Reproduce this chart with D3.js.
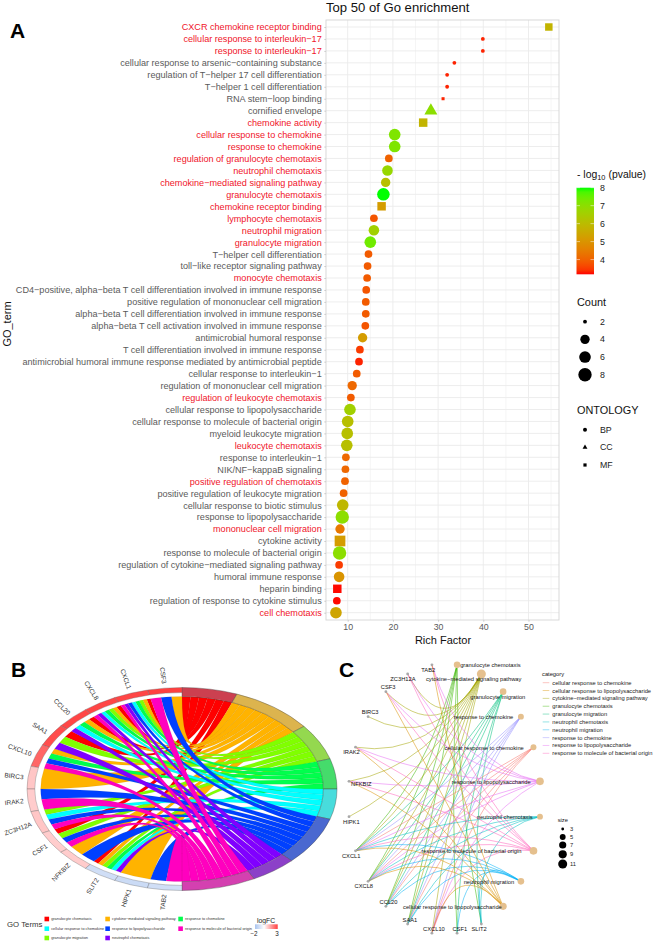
<!DOCTYPE html>
<html><head><meta charset="utf-8">
<script src="https://cdn.jsdelivr.net/npm/d3@7"></script>
<style>html,body{margin:0;padding:0;background:#fff}text{font-family:"Liberation Sans",Arial,sans-serif}</style>
</head><body><svg id="c" width="656" height="943" xmlns="http://www.w3.org/2000/svg"></svg>
<script>
// ---------- Panel A data ----------
const goTerms = ["CXCR chemokine receptor binding","cellular response to interleukin−17","response to interleukin−17","cellular response to arsenic−containing substance","regulation of T−helper 17 cell differentiation","T−helper 1 cell differentiation","RNA stem−loop binding","cornified envelope","chemokine activity","cellular response to chemokine","response to chemokine","regulation of granulocyte chemotaxis","neutrophil chemotaxis","chemokine−mediated signaling pathway","granulocyte chemotaxis","chemokine receptor binding","lymphocyte chemotaxis","neutrophil migration","granulocyte migration","T−helper cell differentiation","toll−like receptor signaling pathway","monocyte chemotaxis","CD4−positive, alpha−beta T cell differentiation involved in immune response","positive regulation of mononuclear cell migration","alpha−beta T cell differentiation involved in immune response","alpha−beta T cell activation involved in immune response","antimicrobial humoral response","T cell differentiation involved in immune response","antimicrobial humoral immune response mediated by antimicrobial peptide","cellular response to interleukin−1","regulation of mononuclear cell migration","regulation of leukocyte chemotaxis","cellular response to lipopolysaccharide","cellular response to molecule of bacterial origin","myeloid leukocyte migration","leukocyte chemotaxis","response to interleukin−1","NIK/NF−kappaB signaling","positive regulation of chemotaxis","positive regulation of leukocyte migration","cellular response to biotic stimulus","response to lipopolysaccharide","mononuclear cell migration","cytokine activity","response to molecule of bacterial origin","regulation of cytokine−mediated signaling pathway","humoral immune response","heparin binding","regulation of response to cytokine stimulus","cell chemotaxis"];
const richFactor = [54.5,39.9,39.9,33.6,32,32,31.1,28.4,26.7,20.4,20.4,19.1,18.8,18.4,17.9,17.5,15.8,15.8,15,14.6,14.4,14.3,14.1,14,14,13.9,13.3,12.7,12.5,12,11,10.7,10.5,10,9.9,9.8,9.6,9.5,9.4,9.1,8.9,8.8,8.3,8.3,8.2,8.1,8.1,7.7,7.6,7.4];
const logP = [5.8,3.3,3.3,3.3,3.3,3.3,3.3,7,5.8,7.2,7.2,4,6.8,6.1,8,5.2,3.8,6.6,7.4,3.9,3.9,3.9,3.8,3.9,3.9,3.8,5.2,3.5,3.3,3.9,4.1,3.9,6.6,6.1,6.1,6.1,4.1,4.1,4,4,5.9,7,4.4,5.2,7,3.5,5,3.2,3.2,5.4];
const geneCount = [4,2,2,2,2,2,2,5,5,6,6,3,5,4,7,5,3,5,6,3,3,3,3,3,3,3,4,3,3,3,4,3,6,6,6,6,3,3,3,3,6,8,4,8,8,3,5,5,3,6];
const ontology = ["MF","BP","BP","BP","BP","BP","MF","CC","MF","BP","BP","BP","BP","BP","BP","MF","BP","BP","BP","BP","BP","BP","BP","BP","BP","BP","BP","BP","BP","BP","BP","BP","BP","BP","BP","BP","BP","BP","BP","BP","BP","BP","BP","MF","BP","BP","BP","MF","BP","BP"];
const redTerms = ["CXCR chemokine receptor binding","cellular response to interleukin−17","response to interleukin−17","chemokine activity","cellular response to chemokine","response to chemokine","regulation of granulocyte chemotaxis","neutrophil chemotaxis","chemokine−mediated signaling pathway","granulocyte chemotaxis","chemokine receptor binding","lymphocyte chemotaxis","neutrophil migration","granulocyte migration","monocyte chemotaxis","regulation of leukocyte chemotaxis","leukocyte chemotaxis","positive regulation of chemotaxis","mononuclear cell migration","cell chemotaxis"];
const xTicks = [10,20,30,40,50];
const colourTicks = [8,7,6,5,4];
const countTicks = [2,4,6,8];
const ontologyLevels = ["BP","CC","MF"];

// ---------- Panel B / C data ----------
const chordGenes = ["CSF3","CXCL1","CXCL8","CCL20","SAA1","CXCL10","BIRC3","IRAK2","ZC3H12A","CSF1","NFKBIZ","SLIT2","HIPK1","TAB2"];
const logFC = [3,2.9,2.9,2.9,2.8,2.4,0.9,0.8,0.9,0.8,0.8,-1.1,-1.2,-1.1];
const chordTerms = ["granulocyte chemotaxis","cytokine−mediated signaling pathway","granulocyte migration","response to chemokine","cellular response to chemokine","response to lipopolysaccharide","neutrophil chemotaxis","response to molecule of bacterial origin"];
const chordColours = ["#ff0000","#ffb300","#80ff00","#00ff4d","#00ffff","#0040ff","#8000ff","#ff00bf"];
const ringColours = ["#cc4050","#dcb44e","#94d84f","#45dc6b","#48dcdc","#4a68d0","#8c40c8","#d440b0"];
const termGenes = [
 ["CXCL1","CXCL8","CCL20","SAA1","CSF1","SLIT2"],
 ["CSF3","CXCL1","CXCL8","CCL20","CXCL10","BIRC3","NFKBIZ","SLIT2","HIPK1"],
 ["CXCL1","CXCL8","SAA1","ZC3H12A","CSF1","SLIT2"],
 ["CXCL1","CXCL8","CCL20","CXCL10","SLIT2"],
 ["CXCL1","CXCL8","CCL20","ZC3H12A","SLIT2"],
 ["CSF3","CXCL1","CXCL10","IRAK2","ZC3H12A","CSF1","NFKBIZ","TAB2"],
 ["CXCL1","CXCL8","CCL20","SAA1","SLIT2"],
 ["CSF3","CXCL1","CXCL8","CXCL10","IRAK2","ZC3H12A","CSF1","TAB2"]
];
const legendOrder = [0,4,2,1,5,6,3,7];
const cnetTerms = ["granulocyte chemotaxis","cytokine−mediated signaling pathway","granulocyte migration","response to chemokine","cellular response to chemokine","response to lipopolysaccharide","neutrophil chemotaxis","response to molecule of bacterial origin","neutrophil migration","cellular response to lipopolysaccharide"];
const cnetGenes = ["SLIT2","CSF1","CXCL10","SAA1","CCL20","CXCL8","CXCL1","HIPK1","NFKBIZ","IRAK2","BIRC3","CSF3","ZC3H12A","TAB2"];
const cnetEdges = [
 ["CXCL1","CXCL8","CCL20","SAA1","CSF1","SLIT2"],
 ["CSF3","CXCL1","CXCL8","CCL20","CXCL10","BIRC3","NFKBIZ","ZC3H12A","HIPK1","SAA1","IRAK2"],
 ["CXCL1","CXCL8","CCL20","SAA1","CSF1","SLIT2"],
 ["CXCL1","CXCL8","CCL20","CXCL10","SAA1"],
 ["CXCL1","CXCL8","CCL20","CXCL10","SAA1"],
 ["CSF3","CXCL1","CXCL8","CXCL10","IRAK2","ZC3H12A","NFKBIZ","TAB2"],
 ["CXCL1","CXCL8","CCL20","SAA1","SLIT2"],
 ["CSF3","CXCL1","CXCL8","CXCL10","IRAK2","ZC3H12A","NFKBIZ","TAB2"],
 ["CXCL1","CXCL8","CCL20","SAA1","CSF1","SLIT2"],
 ["CSF3","CXCL1","CXCL8","CXCL10","IRAK2","NFKBIZ","TAB2"]
];
const cnetCategories = ["cellular response to chemokine","cellular response to lipopolysaccharide","cytokine−mediated signaling pathway","granulocyte chemotaxis","granulocyte migration","neutrophil chemotaxis","neutrophil migration","response to chemokine","response to lipopolysaccharide","response to molecule of bacterial origin"];
const cnetColours = ["#F8766D","#D89000","#A3A500","#39B600","#00BF7D","#00BFC4","#00B0F6","#9590FF","#E76BF3","#FF62BC"];
const sizeTicks = [3,5,7,9,11];

// ---------- layout (not data) ----------
const svg = d3.select("#c");
const FONT_AXIS = 9.1;
const letters = [["A",10,38],["B",11,677],["C",339,677]];
svg.selectAll("text.letter").data(letters).join("text").attr("class","letter")
  .attr("x",d=>d[1]).attr("y",d=>d[2]).attr("font-size",21).attr("font-weight","bold").attr("fill","#000").text(d=>d[0]);

// ========== Panel A ==========
const pA = {l:326,r:559,t:20,b:620};
const x = d3.scaleLinear().domain([5.2,56.75]).range([pA.l,pA.r]);
const y = d3.scalePoint().domain(goTerms).range([27,612.7]);
const colour = d3.scaleLinear().domain([3.18,8]).range(["#ff0000","#00ff00"]).interpolate(d3.interpolateLab);
const rUnit = d3.scaleLinear().domain([2,8]).range([0,1]);
const rSqrt = d3.scaleSqrt().domain([0,1]).range([1.9,6.7]);
const radius = c => rSqrt(rUnit(c));
const symbolOf = {BP:d3.symbolCircle,CC:d3.symbolTriangle,MF:d3.symbolSquare};
const areaOf = (o,r)=> o==="BP"? Math.PI*r*r : o==="MF"? Math.pow(1.6*r,2) : Math.sqrt(3)/4*Math.pow(2.45*r,2);
const A = svg.append("g");
A.append("g").selectAll("line").data(d3.range(10,56,5)).join("line")
  .attr("x1",d=>x(d)).attr("x2",d=>x(d)).attr("y1",pA.t).attr("y2",pA.b)
  .attr("stroke","#ebebeb").attr("stroke-width",d=>d%10===0?0.9:0.5);
A.append("g").selectAll("line").data(goTerms).join("line")
  .attr("x1",pA.l).attr("x2",pA.r).attr("y1",d=>y(d)).attr("y2",d=>y(d))
  .attr("stroke","#ebebeb").attr("stroke-width",0.9);
A.append("rect").attr("x",pA.l).attr("y",pA.t).attr("width",pA.r-pA.l).attr("height",pA.b-pA.t)
  .attr("fill","none").attr("stroke","#d4d4d4").attr("stroke-width",0.9);
const yAxis = A.append("g").attr("transform",`translate(${pA.l},0)`).call(d3.axisLeft(y).tickSize(1.8).tickPadding(2.5));
yAxis.select(".domain").remove();
yAxis.selectAll("line").attr("stroke","#aaa").attr("stroke-width",0.5);
yAxis.selectAll("text").attr("font-size",FONT_AXIS).attr("font-family","Liberation Sans")
  .attr("fill",d=>redTerms.includes(d)?"#f0142a":"#5a5a5a");
const xAxis = A.append("g").attr("transform",`translate(0,${pA.b})`).call(d3.axisBottom(x).tickValues(xTicks).tickSize(1.8).tickPadding(2));
xAxis.select(".domain").remove();
xAxis.selectAll("line").attr("stroke","#aaa").attr("stroke-width",0.5);
xAxis.selectAll("text").attr("font-size",8.8).attr("font-family","Liberation Sans").attr("fill","#5a5a5a");
A.append("text").attr("x",443).attr("y",644).attr("text-anchor","middle").attr("font-size",11).attr("fill","#111").text("Rich Factor");
A.append("text").attr("transform","translate(10.5,324) rotate(-90)").attr("text-anchor","middle").attr("font-size",11).attr("fill","#111").text("GO_term");
A.append("text").attr("x",326).attr("y",12).attr("font-size",13.1).attr("fill","#111").text("Top 50 of Go enrichment");
A.append("g").selectAll("path").data(goTerms).join("path")
  .attr("transform",(d,i)=>`translate(${x(richFactor[i])},${y(d)})`)
  .attr("d",(d,i)=>d3.symbol().type(symbolOf[ontology[i]]).size(areaOf(ontology[i],radius(geneCount[i])))())
  .attr("fill",(d,i)=>colour(logP[i]));

// legends of A
const lg = svg.append("g");
const t1 = lg.append("text").attr("x",577).attr("y",178).attr("font-size",10.4).attr("fill","#111");
t1.append("tspan").text("-  log");
t1.append("tspan").attr("font-size",7.4).attr("dy",2.4).text("10");
t1.append("tspan").attr("dy",-2.4).attr("dx",3).text("(pvalue)");
const cb = d3.scaleLinear().domain([8,3.18]).range([187.7,274.3]);
const defs = svg.append("defs");
const gr = defs.append("linearGradient").attr("id","cbar").attr("x1",0).attr("x2",0).attr("y1",0).attr("y2",1);
gr.selectAll("stop").data(d3.range(0,1.001,0.05)).join("stop")
  .attr("offset",d=>d).attr("stop-color",d=>colour(8-d*(8-3.18)));
lg.append("rect").attr("x",576.5).attr("y",187.7).attr("width",17.5).attr("height",86.6).attr("fill","url(#cbar)");
lg.append("g").selectAll("line").data(colourTicks).join("line")
  .attr("x1",576.5).attr("x2",580).attr("y1",cb).attr("y2",cb).attr("stroke","#fff").attr("stroke-width",0.5);
lg.append("g").selectAll("line").data(colourTicks).join("line")
  .attr("x1",590.5).attr("x2",594).attr("y1",cb).attr("y2",cb).attr("stroke","#fff").attr("stroke-width",0.5);
lg.append("g").selectAll("text").data(colourTicks).join("text")
  .attr("x",600).attr("y",d=>cb(d)+3).attr("font-size",8.8).attr("fill","#222").text(d=>d);
lg.append("text").attr("x",577).attr("y",306).attr("font-size",10.9).attr("fill","#111").text("Count");
const countY = d3.scalePoint().domain(countTicks).range([321.7,374.7]);
lg.append("g").selectAll("circle").data(countTicks).join("circle")
  .attr("cx",585).attr("cy",countY).attr("r",radius).attr("fill","#000");
lg.append("g").selectAll("text").data(countTicks).join("text")
  .attr("x",600).attr("y",d=>countY(d)+3).attr("font-size",8.8).attr("fill","#222").text(d=>d);
lg.append("text").attr("x",577).attr("y",414).attr("font-size",10.9).attr("fill","#111").text("ONTOLOGY");
const ontY = d3.scalePoint().domain(ontologyLevels).range([429.7,465]);
lg.append("g").selectAll("path").data(ontologyLevels).join("path")
  .attr("transform",d=>`translate(585,${ontY(d)})`)
  .attr("d",d=>d3.symbol().type(symbolOf[d]).size(areaOf(d,2))()).attr("fill","#000");
lg.append("g").selectAll("text").data(ontologyLevels).join("text")
  .attr("x",600).attr("y",d=>ontY(d)+3).attr("font-size",8.8).attr("fill","#222").text(d=>d);

// ========== Panel B ==========
const ch = {cx:182,cy:789,rx:155,ry:101.5,rInner:0.912,rGap:0.95};
const B = svg.append("g");
const uni = B.append("g").attr("transform",`translate(${ch.cx},${ch.cy}) scale(${ch.rx},${ch.ry})`);
const TAU = Math.PI*2, geneStep = Math.PI/chordGenes.length;
const geneStart = i => TAU - i*geneStep;
const termsOfGene = chordGenes.map(g=>termGenes.map((l,t)=>l.includes(g)?t:-1).filter(t=>t>=0));
const linkTotal = d3.sum(termGenes,l=>l.length);
const termStep = Math.PI/linkTotal;
let used = 0;
const termArcs = termGenes.map(l=>{const a={start:used*termStep,end:(used+l.length)*termStep};used+=l.length;return a;});
const links = [];
termGenes.forEach((l,t)=>{
  const ordered = l.slice().sort((a,b)=>chordGenes.indexOf(a)-chordGenes.indexOf(b));
  ordered.forEach((g,j)=>{
    const gi = chordGenes.indexOf(g), k = termsOfGene[gi], pos = k.indexOf(t), w = geneStep/k.length;
    links.push({t,
      source:{startAngle:geneStart(gi)-(pos+1)*w,endAngle:geneStart(gi)-pos*w,radius:ch.rInner},
      target:{startAngle:termArcs[t].start+j*termStep,endAngle:termArcs[t].start+(j+1)*termStep,radius:ch.rInner}});
  });
});
const ribbon = d3.ribbon();
uni.append("g").selectAll("path").data(links).join("path")
  .attr("d",ribbon).attr("fill",d=>chordColours[d.t])
  .attr("stroke","rgba(90,70,50,0.28)").attr("stroke-width",0.25).attr("vector-effect","non-scaling-stroke");
const arc = d3.arc();
uni.append("g").selectAll("path").data(termArcs).join("path")
  .attr("d",d=>arc({innerRadius:ch.rInner,outerRadius:1,startAngle:d.start,endAngle:d.end}))
  .attr("fill",(d,i)=>ringColours[i]).attr("stroke","#444").attr("stroke-width",0.4).attr("vector-effect","non-scaling-stroke");
const fcColour = d3.scaleLinear().domain([-2,0,3]).range(["#a9c3ee","#ffffff","#ff4040"]);
uni.append("g").selectAll("path").data(chordGenes).join("path")
  .attr("d",(d,i)=>arc({innerRadius:ch.rGap,outerRadius:1,startAngle:geneStart(i)-geneStep,endAngle:geneStart(i)}))
  .attr("fill",(d,i)=>fcColour(logFC[i])).attr("stroke","#666").attr("stroke-width",0.35).attr("vector-effect","non-scaling-stroke");
B.append("g").selectAll("text").data(chordGenes).join("text")
  .attr("transform",(d,i)=>{
    const a = geneStart(i)-geneStep/2, sx=Math.sin(a), cx=Math.cos(a);
    const px = ch.cx+ch.rx*sx+4.5*sx, py = ch.cy-ch.ry*cx-4.5*cx;
    const rot = Math.atan2(-cx,sx)*180/Math.PI+180;
    return `translate(${px},${py}) rotate(${rot})`;
  })
  .attr("text-anchor","end").attr("dy","0.35em").attr("font-size",6.5).attr("fill","#333").text(d=>d);
// legend B
B.append("text").attr("x",7).attr("y",927).attr("font-size",7.8).attr("fill","#333").text("GO Terms");
const legendCols = [[44.5,51.2],[105.3,112],[178.3,185]];
const legendRows = [919,928.7,938];
const legendSlots = legendOrder.map((t,i)=>({t,c:legendCols[Math.floor(i/3)],y:legendRows[i%3]}));
B.append("g").selectAll("rect").data(legendSlots).join("rect")
  .attr("x",d=>d.c[0]).attr("y",d=>d.y-2.3).attr("width",4.6).attr("height",4.6).attr("fill",d=>chordColours[d.t]);
B.append("g").selectAll("text").data(legendSlots).join("text")
  .attr("x",d=>d.c[1]).attr("y",d=>d.y+1.2).attr("font-size",3.85).attr("fill","#333").text(d=>chordTerms[d.t]);
B.append("text").attr("x",266).attr("y",923).attr("text-anchor","middle").attr("font-size",6.8).attr("fill","#222").text("logFC");
const gr2 = defs.append("linearGradient").attr("id","fcbar");
gr2.selectAll("stop").data(d3.range(0,1.001,0.1)).join("stop")
  .attr("offset",d=>d).attr("stop-color",d=>fcColour(-2+5*d));
B.append("rect").attr("x",255).attr("y",924.3).attr("width",22.7).attr("height",4.7).attr("fill","url(#fcbar)");
B.append("g").selectAll("text").data([[-2,254],[3,277]]).join("text")
  .attr("x",d=>d[1]).attr("y",936).attr("text-anchor","middle").attr("font-size",6.3).attr("fill","#222")
  .text(d=>d[0]<0?"−"+Math.abs(d[0]):d[0]);

// ========== Panel C ==========
const net = {cx:444.5,cy:799,rx:96.3,ry:135.3};
const nodeNames = cnetTerms.concat(cnetGenes);
const angle = d3.scaleLinear().domain([0,nodeNames.length]).range([-82.5,277.5]);
const pos = {};
nodeNames.forEach((n,i)=>{const a=angle(i)*Math.PI/180;pos[n]={x:net.cx+net.rx*Math.cos(a),y:net.cy+net.ry*Math.sin(a)};});
const edgeData = [];
cnetEdges.forEach((l,t)=>l.forEach(g=>edgeData.push({t:cnetTerms[t],g})));
const bend = 0.55;
const edgePath = d=>{
  const a=pos[d.g], b=pos[d.t], p=d3.path();
  const mx=(a.x+b.x)/2,my=(a.y+b.y)/2;
  p.moveTo(a.x,a.y);
  p.quadraticCurveTo(mx+(net.cx-mx)*bend,my+(net.cy-my)*bend,b.x,b.y);
  return p.toString();
};
const catColour = d3.scaleOrdinal().domain(cnetCategories).range(cnetColours);
const C = svg.append("g");
C.append("g").selectAll("path").data(edgeData).join("path")
  .attr("d",edgePath).attr("fill","none").attr("stroke",d=>catColour(d.t)).attr("stroke-width",0.7).attr("stroke-opacity",0.75);
const sizeUnit = d3.scaleLinear().domain([3,11]).range([0,1]);
const sizeSqrt = d3.scaleSqrt().domain([0,1]).range([1.4,4.5]);
const sizeR = s=>sizeSqrt(sizeUnit(s));
C.append("g").selectAll("circle").data(cnetGenes).join("circle")
  .attr("cx",d=>pos[d].x).attr("cy",d=>pos[d].y).attr("r",1.4).attr("fill","#a8a8a8");
C.append("g").selectAll("circle").data(cnetTerms).join("circle")
  .attr("cx",d=>pos[d].x).attr("cy",d=>pos[d].y).attr("r",(d,i)=>sizeR(cnetEdges[i].length)).attr("fill","#e5c08e");
const labelShift = {"granulocyte chemotaxis":[33.3,0],"cytokine−mediated signaling pathway":[-7.7,5.3],"granulocyte migration":[-5.3,5],"response to chemokine":[-37.3,0],"cellular response to chemokine":[-49.3,.3],"response to lipopolysaccharide":[-48.7,.7],"neutrophil chemotaxis":[-35.3,.3],"response to molecule of bacterial origin":[-62,.7],"neutrophil migration":[-32,.7],"cellular response to lipopolysaccharide":[-50.7,.3],
 TAB2:[-3.7,4.7],ZC3H12A:[-4.7,4.7],CSF3:[2.3,-4.7],BIRC3:[2,-4.3],IRAK2:[-4,4.7],NFKBIZ:[12.3,2.3],HIPK1:[2.3,5],CXCL1:[-4.3,5],CXCL8:[-4.3,4.7],CCL20:[2.7,-4.3],SAA1:[2.3,-4.3],CXCL10:[2,-4.3],CSF1:[2.7,-4.3],SLIT2:[-2.3,5]};
C.append("g").selectAll("text").data(nodeNames).join("text")
  .attr("x",d=>pos[d].x+labelShift[d][0]).attr("y",d=>pos[d].y+labelShift[d][1]+2)
  .attr("text-anchor","middle").attr("font-size",5.75).attr("fill","#111").text(d=>d);
// legends C
C.append("text").attr("x",542).attr("y",676).attr("font-size",5.75).attr("fill","#111").text("category");
const catY = d3.scalePoint().domain(cnetCategories).range([682.7,753.3]);
C.append("g").selectAll("line").data(cnetCategories).join("line")
  .attr("x1",542.7).attr("x2",549.3).attr("y1",catY).attr("y2",catY)
  .attr("stroke",d=>catColour(d)).attr("stroke-width",0.6).attr("stroke-opacity",0.7);
C.append("g").selectAll("text").data(cnetCategories).join("text")
  .attr("x",552.3).attr("y",d=>catY(d)+2).attr("font-size",5.75).attr("fill","#222").text(d=>d);
C.append("text").attr("x",557.7).attr("y",822).attr("font-size",5.75).attr("fill","#111").text("size");
const sizeY = d3.scaleOrdinal().domain(sizeTicks).range([829,837,845,854.3,864]);
C.append("g").selectAll("circle").data(sizeTicks).join("circle")
  .attr("cx",562.7).attr("cy",d=>sizeY(d)).attr("r",d=>sizeR(d)).attr("fill","#000");
C.append("g").selectAll("text").data(sizeTicks).join("text")
  .attr("x",570).attr("y",d=>sizeY(d)+2).attr("font-size",5.75).attr("fill","#222").text(d=>d);
</script></body></html>
